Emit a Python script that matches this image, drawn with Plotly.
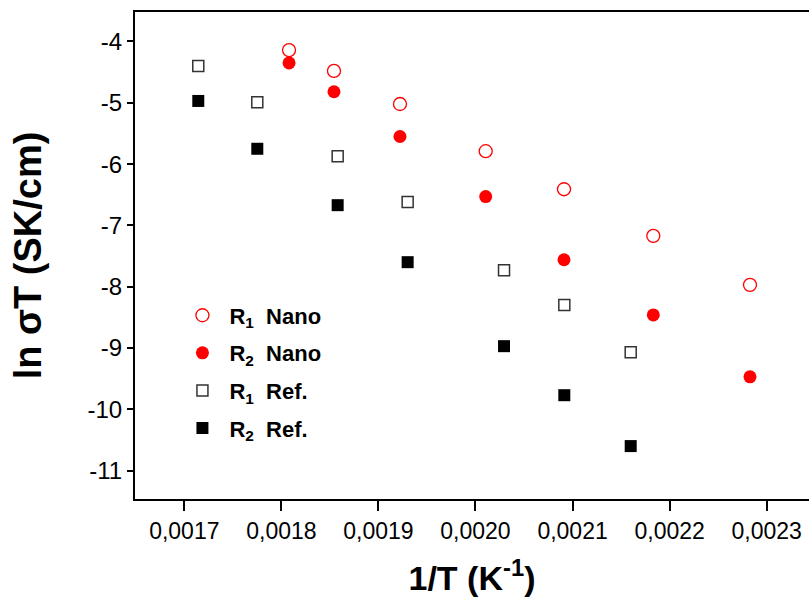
import plotly.graph_objects as go

# 1/T (K^-1)
x_nano = [0.0018079, 0.0018542, 0.0019222, 0.0020105, 0.0020912, 0.0021832, 0.0022828]
x_ref = [0.0017144, 0.0017752, 0.0018580, 0.0019301, 0.0020294, 0.0020915, 0.0021599]

# ln(sigma T)
r1_nano = [-4.14, -4.48, -5.02, -5.79, -6.41, -7.17, -7.97]
r2_nano = [-4.35, -4.82, -5.55, -6.53, -7.56, -8.46, -9.47]
r1_ref = [-4.40, -4.99, -5.87, -6.62, -7.73, -8.30, -9.07]
r2_ref = [-4.97, -5.75, -6.67, -7.60, -8.97, -9.77, -10.60]

x_ticks = [0.0017, 0.0018, 0.0019, 0.0020, 0.0021, 0.0022, 0.0023]
x_tick_text = ["0,0017", "0,0018", "0,0019", "0,0020", "0,0021", "0,0022", "0,0023"]
y_ticks = [-4, -5, -6, -7, -8, -9, -10, -11]
y_tick_text = ["-4", "-5", "-6", "-7", "-8", "-9", "-10", "-11"]

fig = go.Figure()
fig.add_trace(go.Scatter(
    x=x_nano, y=r1_nano, mode="markers", name="R<sub>1</sub>  Nano", legendgroup="a",
    marker=dict(symbol="circle-open", size=13, color="red", line=dict(width=1.3, color="red"))))
fig.add_trace(go.Scatter(
    x=x_nano, y=r2_nano, mode="markers", name="R<sub>2</sub>  Nano", legendgroup="b",
    marker=dict(symbol="circle", size=13, color="red")))
fig.add_trace(go.Scatter(
    x=x_ref, y=r1_ref, mode="markers", name="R<sub>1</sub>  Ref.", legendgroup="c",
    marker=dict(symbol="square", size=11, color="white", line=dict(width=1.5, color="#333"))))
fig.add_trace(go.Scatter(
    x=x_ref, y=r2_ref, mode="markers", name="R<sub>2</sub>  Ref.", legendgroup="d",
    marker=dict(symbol="square", size=12, color="black")))

font_family = "Liberation Sans, Arial, sans-serif"
fig.update_layout(
    width=809, height=603,
    margin=dict(l=135, r=0, t=12, b=104),
    plot_bgcolor="white", paper_bgcolor="white",
    font=dict(family=font_family, color="black"),
    showlegend=True,
    legend=dict(
        x=0.06, y=0.42, xanchor="left", yanchor="top",
        bgcolor="rgba(0,0,0,0)", tracegroupgap=6,
        font=dict(size=22, family=font_family, color="black", weight="bold"),
        itemwidth=44,
    ),
    xaxis=dict(
        range=[0.0016492, 0.0023436],
        tickvals=x_ticks, ticktext=x_tick_text,
        ticks="outside", ticklen=10, tickwidth=2, tickcolor="black",
        showline=True, linewidth=2, linecolor="black", mirror=True,
        showgrid=False, zeroline=False,
        tickfont=dict(size=23, family=font_family, color="black"),
        title=dict(text="1/T (K<sup>-1</sup>)", font=dict(size=34, family=font_family, color="black", weight="bold"), standoff=24),
    ),
    yaxis=dict(
        range=[-11.463, -3.519],
        tickvals=y_ticks, ticktext=y_tick_text,
        ticks="outside", ticklen=6, tickwidth=2, tickcolor="black",
        showline=True, linewidth=2, linecolor="black",
        showgrid=False, zeroline=False,
        tickfont=dict(size=24, family=font_family, color="black"),
        title=dict(text="ln σT (SK/cm)", font=dict(size=38, family=font_family, color="black", weight="bold"), standoff=34),
    ),
)

fig.write_html("out.html")
